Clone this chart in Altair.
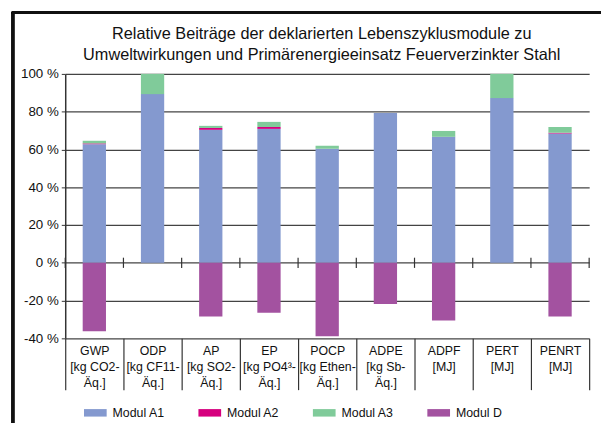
import altair as alt
import pandas as pd

categories = ["GWP", "ODP", "AP", "EP", "POCP", "ADPE", "ADPF", "PERT", "PENRT"]
cat_labels = [
    "GWP|[kg CO2-|Äq.]",
    "ODP|[kg CF11-|Äq.]",
    "AP|[kg SO2-|Äq.]",
    "EP|[kg PO4³-|Äq.]",
    "POCP|[kg Ethen-|Äq.]",
    "ADPE|[kg Sb-|Äq.]",
    "ADPF|[MJ]",
    "PERT|[MJ]",
    "PENRT|[MJ]",
]
modules = ["Modul A1", "Modul A2", "Modul A3", "Modul D"]
colors = ["#8499CF", "#D6007E", "#80CB9A", "#A352A0"]

a1 = [62.8, 89.3, 70.4, 70.9, 60.4, 79.3, 66.7, 87.2, 68.4]
a2 = [0.4, 0.0, 1.0, 1.0, 0.0, 0.0, 0.0, 0.0, 0.5]
a3 = [1.4, 10.7, 1.1, 2.7, 1.5, 0.0, 3.1, 12.8, 3.0]
d = [-36.3, 0.0, -28.5, -26.4, -38.9, -21.8, -30.6, 0.0, -28.5]

y_ticks = [-40, -20, 0, 20, 40, 60, 80, 100]
title_lines = [
    "Relative Beiträge der deklarierten Lebenszyklusmodule zu",
    "Umweltwirkungen und Primärenergieeinsatz Feuerverzinkter Stahl",
]

rows = []
for i, c in enumerate(cat_labels):
    for m, vals in zip(modules, [a1, a2, a3, d]):
        rows.append({"cat": c, "module": m, "value": vals[i], "ord": modules.index(m)})
df = pd.DataFrame(rows)
cats_df = pd.DataFrame({"cat": cat_labels})
last_df = pd.DataFrame({"cat": [cat_labels[-1]]})
title_df = pd.DataFrame({"t": ["\n".join(title_lines)]})

FONT = "Liberation Sans"

xscale = alt.Scale(domain=cat_labels, paddingInner=0, paddingOuter=0)
yscale = alt.Scale(domain=[-40, 100], nice=False)

x_axis = alt.Axis(labelExpr="isValid(datum.value) ? split(datum.value, '|') : ''",
                  labelAngle=0, tickBand="extent", tickSize=52, tickColor="#333",
                  tickWidth=1.2, labelPadding=-46, labelBaseline="top",
                  labelFontSize=12.5, labelLineHeight=16.5, labelFont=FONT,
                  labelColor="#111", domain=False, grid=False, labelOverlap=False,
                  title=None)
y_axis = alt.Axis(values=y_ticks, labelExpr="datum.value + ' %'",
                  labelFontSize=13.5, labelFont=FONT, labelColor="#111",
                  tickSize=4, tickColor="#333", labelPadding=3,
                  domainColor="#333", domainWidth=1.5, labelOverlap=False,
                  gridColor="#444", gridWidth=1.3, title=None)

bars = alt.Chart(df).mark_bar(width=alt.RelativeBandSize(0.4)).encode(
    x=alt.X("cat:N", scale=xscale, sort=cat_labels, axis=x_axis),
    y=alt.Y("value:Q", scale=yscale, stack="zero", axis=y_axis),
    color=alt.Color("module:N", scale=alt.Scale(domain=modules, range=colors),
                    legend=alt.Legend(title=None, orient="none", legendX=19, legendY=332,
                                      direction="horizontal", columns=4,
                                      symbolType="M-1,-0.33H1V0.33H-1Z", symbolSize=529,
                                      symbolStrokeWidth=0, labelFontSize=12.5,
                                      labelFont=FONT, labelColor="#111",
                                      columnPadding=34, gridAlign="all", labelOffset=6)),
    order=alt.Order("ord:Q"),
)

zero_ticks = alt.Chart(cats_df).mark_rule(color="#333", strokeWidth=1.2).encode(
    x=alt.X("cat:N", scale=xscale, sort=cat_labels, bandPosition=0, axis=x_axis),
    y=alt.YDatum(-2.7, scale=yscale, axis=y_axis), y2=alt.Y2Datum(2.7),
)
zero_tick_end = alt.Chart(last_df).mark_rule(color="#333", strokeWidth=1.2).encode(
    x=alt.X("cat:N", scale=xscale, sort=cat_labels, bandPosition=1, axis=x_axis),
    y=alt.YDatum(-2.7, scale=yscale, axis=y_axis), y2=alt.Y2Datum(2.7),
)

frame_left = alt.Chart(cats_df).mark_rule(color="#111", strokeWidth=2.5).encode(
    x=alt.value(-53), y=alt.value(-63), y2=alt.value(400))
frame_top = alt.Chart(cats_df).mark_rule(color="#111", strokeWidth=2.5).encode(
    x=alt.value(-54), x2=alt.value(560), y=alt.value(-62))

title_text = alt.Chart(title_df).mark_text(
    font=FONT, fontSize=16.5, color="#111", lineBreak="\n", lineHeight=20.5,
    align="center", baseline="middle"
).encode(text="t:N", x=alt.value(260), y=alt.value(-40))

chart = alt.layer(bars, zero_ticks, zero_tick_end, frame_left, frame_top, title_text).properties(
    width=531, height=268,
    autosize=alt.AutoSizeParams(type="none"),
    padding={"left": 58, "top": 64, "right": 12, "bottom": 83},
).configure_view(stroke=None)

chart.save("out.html", embed_options={"renderer": "svg", "actions": False})
